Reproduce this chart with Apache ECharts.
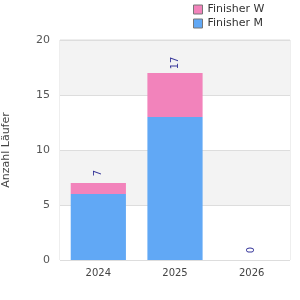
<!DOCTYPE html>
<html>
<head>
<meta charset="utf-8">
<script src="https://cdn.jsdelivr.net/npm/echarts@6/dist/echarts.min.js"></script>
<style>
  html, body { margin: 0; padding: 0; background: #fff; }
  #chart { width: 300px; height: 300px; }
</style>
</head>
<body>
<div id="chart"></div>
<script>
// Jahre und Finisher pro Jahr
var years = ['2024', '2025', '2026']
var finisherM = [6, 13, 0]
var finisherW = [1, 4, 0]
var totals = [7, 17, 0]
var yTicks = [0, 5, 10, 15, 20]

var chart = echarts.init(document.getElementById('chart'))
var font = 'DejaVu Sans'

chart.setOption({
  animation: false,
  textStyle: { fontFamily: font },
  legend: {
    orient: 'vertical',
    left: 188,
    top: -1,
    itemGap: 3,
    itemWidth: 9,
    itemHeight: 9,
    icon: 'rect',
    data: ['Finisher W', 'Finisher M'],
    itemStyle: { borderColor: '#777', borderWidth: 1 },
    textStyle: { fontSize: 11, color: '#333', fontFamily: font }
  },
  grid: {
    left: 60,
    right: 10,
    top: 40,
    bottom: 40,
    outerBoundsMode: 'none',
    show: true,
    borderColor: '#ddd',
    borderWidth: 1
  },
  xAxis: {
    type: 'category',
    data: years,
    axisLine: { show: false },
    axisTick: { show: false },
    axisLabel: { fontSize: 10, color: '#444', margin: 8 }
  },
  yAxis: {
    type: 'value',
    min: yTicks[0],
    max: yTicks[yTicks.length - 1],
    interval: 5,
    name: 'Anzahl Läufer',
    nameLocation: 'middle',
    nameGap: 48,
    nameTextStyle: { fontSize: 11, color: '#444' },
    axisLine: { show: false },
    axisTick: { show: false },
    axisLabel: { fontSize: 11, color: '#555', margin: 10 },
    splitLine: { lineStyle: { color: '#ddd' } },
    splitArea: { show: true, areaStyle: { color: ['#fff', '#f3f3f3'] } }
  },
  series: [
    {
      name: 'Finisher M',
      type: 'bar',
      stack: 'f',
      barWidth: '72%',
      itemStyle: { color: '#61a8f5' },
      data: finisherM
    },
    {
      name: 'Finisher W',
      type: 'bar',
      stack: 'f',
      itemStyle: { color: '#f283bb' },
      data: finisherW
    },
    {
      name: 'Summe',
      type: 'scatter',
      symbolSize: 0,
      silent: true,
      label: {
        show: true,
        position: 'inside',
        offset: [10, 0],
        rotate: 90,
        fontSize: 10,
        color: '#000080',
        formatter: function(p) { return p.value }
      },
      data: totals
    }
  ]
})
</script>
</body>
</html>
